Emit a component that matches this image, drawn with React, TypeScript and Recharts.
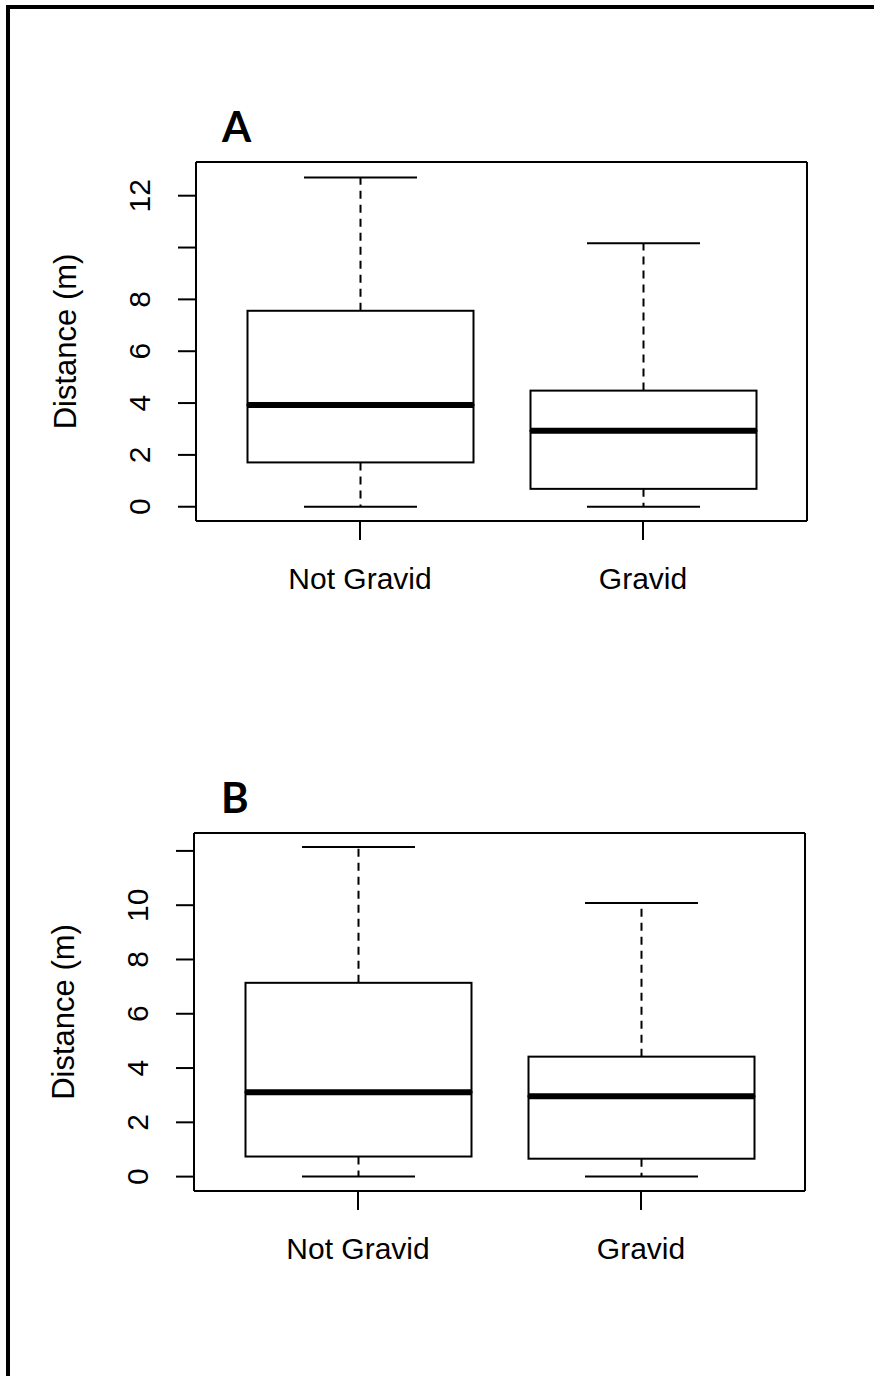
import React from 'react';
import { ComposedChart, Bar, XAxis, YAxis, Label } from 'recharts';

// groups on the x axis
const groups = ['Not Gravid', 'Gravid'];

// panel A, five-number summaries
const aMin = [0, 0];
const aQ1 = [1.71, 0.69];
const aMedian = [3.93, 2.93];
const aQ3 = [7.56, 4.48];
const aMax = [12.7, 10.17];

// panel B
const bMin = [0, 0];
const bQ1 = [0.74, 0.66];
const bMedian = [3.11, 2.96];
const bQ3 = [7.14, 4.42];
const bMax = [12.14, 10.08];

// y ticks (R drops a label when it would overlap)
const yTicks = [0, 2, 4, 6, 8, 10, 12];
const aTickLabels = ['0', '2', '4', '6', '8', '', '12'];
const bTickLabels = ['0', '2', '4', '6', '8', '10', ''];

const FONT = '"Liberation Sans", Arial, sans-serif';
const INK = '#000';

const buildRows = (min: number[], q1: number[], med: number[], q3: number[], max: number[]) =>
  groups.map((name, i) => ({
    name,
    base: min[i],
    lowWhisker: q1[i] - min[i],
    lowBox: med[i] - q1[i],
    highBox: q3[i] - med[i],
    highWhisker: max[i] - q3[i],
  }));

const rowsA = buildRows(aMin, aQ1, aMedian, aQ3, aMax);
const rowsB = buildRows(bMin, bQ1, bMedian, bQ3, bMax);

// whisker below the box: dashed stem, cap at the bottom
const LowWhisker = (p: any) => {
  const cx = p.x + p.width / 2;
  const bottom = p.y + p.height;
  return (
    <g>
      <line x1={cx} x2={cx} y1={p.y} y2={bottom} stroke={INK} strokeWidth={2} strokeDasharray="8 6" />
      <line x1={cx - p.width / 4} x2={cx + p.width / 4} y1={bottom} y2={bottom} stroke={INK} strokeWidth={2} />
    </g>
  );
};

// whisker above the box: dashed stem, cap at the top
const HighWhisker = (p: any) => {
  const cx = p.x + p.width / 2;
  return (
    <g>
      <line x1={cx} x2={cx} y1={p.y + p.height} y2={p.y} stroke={INK} strokeWidth={2} strokeDasharray="8 6" />
      <line x1={cx - p.width / 4} x2={cx + p.width / 4} y1={p.y} y2={p.y} stroke={INK} strokeWidth={2} />
    </g>
  );
};

const LowBox = (p: any) => (
  <rect x={p.x} y={p.y} width={p.width} height={p.height} fill="#fff" stroke={INK} strokeWidth={2} />
);

// upper half of the box, median drawn thick along its bottom edge
const HighBox = (p: any) => (
  <g>
    <rect x={p.x} y={p.y} width={p.width} height={p.height} fill="#fff" stroke={INK} strokeWidth={2} />
    <line x1={p.x} x2={p.x + p.width} y1={p.y + p.height} y2={p.y + p.height} stroke={INK} strokeWidth={6} />
  </g>
);

const makeYTick = (labels: string[]) => (p: any) => {
  const label = labels[yTicks.indexOf(p.payload.value)];
  return (
    <text transform={`translate(${p.x},${p.y}) rotate(-90)`} textAnchor="middle" fontSize={30} fontFamily={FONT} fill={INK}>
      {label}
    </text>
  );
};

const XTick = (p: any) => (
  <text x={p.x} y={p.y} textAnchor="middle" fontSize={30} fontFamily={FONT} fill={INK}>
    {p.payload.value}
  </text>
);

const AxisTitle = (p: any) => {
  const vb = p.viewBox;
  const x = vb.x + vb.width - 120;
  const y = vb.y + vb.height / 2;
  return (
    <text transform={`translate(${x},${y}) rotate(-90)`} textAnchor="middle" fontSize={31} fontFamily={FONT} fill={INK}>
      Distance (m)
    </text>
  );
};

type PanelProps = {
  rows: any[];
  domain: [number, number];
  tickLabels: string[];
  margin: { top: number; right: number; bottom: number; left: number };
};

const frameLine = { stroke: INK, strokeWidth: 2 };

function Panel({ rows, domain, tickLabels, margin }: PanelProps) {
  return (
    <ComposedChart width={874} height={540} data={rows} margin={margin}>
      <XAxis
        dataKey="name"
        type="category"
        padding={{ left: 22.5, right: 22.5 }}
        height={119}
        tickSize={19}
        tickMargin={49}
        tickLine={frameLine}
        axisLine={frameLine}
        tick={<XTick />}
      />
      {/* top and right axes only close the plot frame */}
      <XAxis xAxisId="top" dataKey="name" orientation="top" height={1} tick={false} tickLine={false} axisLine={frameLine} />
      <YAxis
        type="number"
        domain={domain}
        allowDataOverflow
        ticks={yTicks}
        interval={0}
        width={156}
        tickSize={18}
        tickMargin={28}
        tickLine={frameLine}
        axisLine={frameLine}
        tick={makeYTick(tickLabels)}
      >
        <Label content={<AxisTitle />} />
      </YAxis>
      <YAxis yAxisId="right" orientation="right" type="number" domain={domain} allowDataOverflow width={1} tick={false} tickLine={false} axisLine={frameLine} />
      <Bar dataKey="base" stackId="box" barSize={226} fill="none" isAnimationActive={false} />
      <Bar dataKey="lowWhisker" stackId="box" barSize={226} shape={LowWhisker} isAnimationActive={false} />
      <Bar dataKey="lowBox" stackId="box" barSize={226} shape={LowBox} isAnimationActive={false} />
      <Bar dataKey="highBox" stackId="box" barSize={226} shape={HighBox} isAnimationActive={false} />
      <Bar dataKey="highWhisker" stackId="box" barSize={226} shape={HighWhisker} isAnimationActive={false} />
    </ComposedChart>
  );
}

export default function App() {
  return (
    <div style={{ position: 'absolute', left: 0, top: 0, width: 874, height: 1376, overflow: 'hidden', background: '#fff' }}>
      {/* outer figure frame, only top and left edges are visible */}
      <div style={{ position: 'absolute', left: 6, top: 5, width: 900, height: 1400, borderTop: '4px solid #000', borderLeft: '4px solid #000' }} />

      <div style={{ position: 'absolute', left: 0, top: 100 }}>
        <Panel rows={rowsA} domain={[-0.55, 13.3]} tickLabels={aTickLabels} margin={{ top: 61, right: 66, bottom: 0, left: 40 }} />
      </div>
      <div style={{ position: 'absolute', left: 0, top: 770 }}>
        <Panel rows={rowsB} domain={[-0.53, 12.66]} tickLabels={bTickLabels} margin={{ top: 62, right: 68, bottom: 0, left: 38 }} />
      </div>

      <svg width={874} height={1376} style={{ position: 'absolute', left: 0, top: 0, pointerEvents: 'none' }}>
        <text x={222} y={142} fontSize={42} fontWeight={700} fontFamily="Lato, 'Open Sans', sans-serif" fill={INK}>A</text>
        <text x={221} y={813} fontSize={42} fontWeight={700} fontFamily="Lato, 'Open Sans', sans-serif" fill={INK}>B</text>
      </svg>
    </div>
  );
}
